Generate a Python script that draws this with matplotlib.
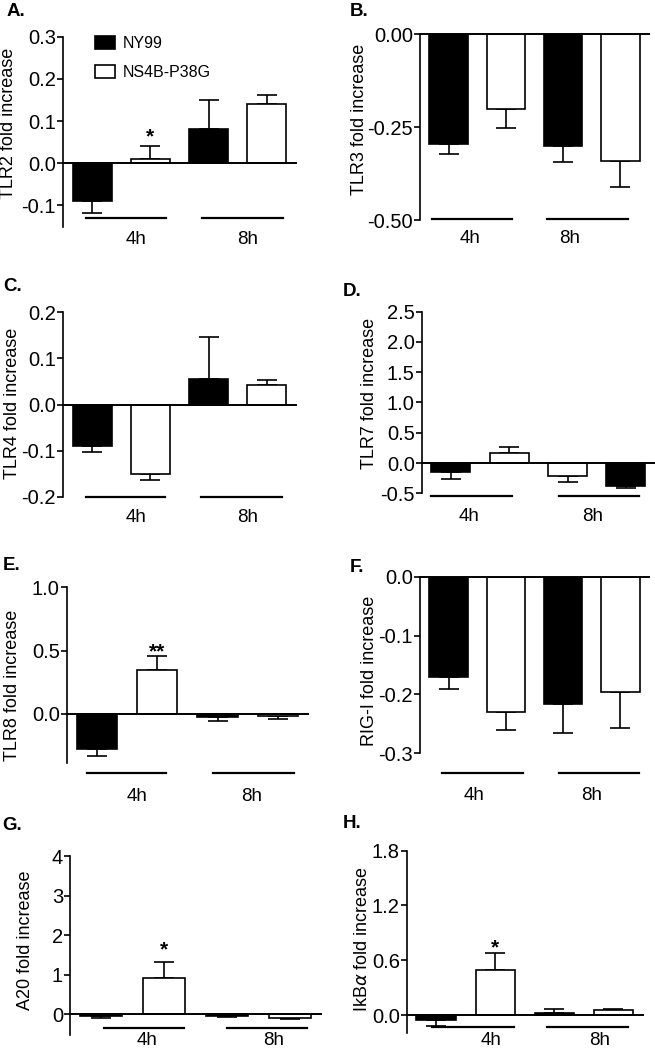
import numpy as np
import matplotlib
matplotlib.use("Agg")
import matplotlib.pyplot as plt
from matplotlib.patches import Patch
from matplotlib import font_manager
from matplotlib.transforms import offset_copy

W, H = 655, 1049
plt.rcParams['font.family'] = ['Liberation Sans', 'DejaVu Sans']
plt.rcParams['axes.unicode_minus'] = False

names = {f.name for f in font_manager.fontManager.ttflist}
if 'Liberation Sans Narrow' in names:
    tick_font = dict(family='Liberation Sans Narrow', size=16.5)
    lab_font = dict(family='Liberation Sans Narrow', size=14.5)
    leg_size = 13.5
    leg_family = 'Liberation Sans Narrow'
else:
    tick_font = dict(family='Liberation Sans', size=14.5)
    lab_font = dict(family='Liberation Sans', size=13.5)
    leg_size = 11.5
    leg_family = 'Liberation Sans'

# data (fold increase, mean and SEM) for 4h and 8h
times = ["4h", "8h"]
panel_letters = ["A.", "B.", "C.", "D.", "E.", "F.", "G.", "H."]
ylabels = ["TLR2 fold increase", "TLR3 fold increase", "TLR4 fold increase",
           "TLR7 fold increase", "TLR8 fold increase", "RIG-I fold increase",
           "A20 fold increase", r"IkB$\alpha$ fold increase"]

ny99 = [
    [-0.090, 0.082],
    [-0.295, -0.300],
    [-0.091, 0.056],
    [-0.155, -0.374],
    [-0.274, -0.026],
    [-0.171, -0.216],
    [-0.060, -0.050],
    [-0.059, 0.018],
]
ny99_err = [
    [0.027, 0.067],
    [0.027, 0.045],
    [0.012, 0.090],
    [0.105, 0.046],
    [0.061, 0.032],
    [0.020, 0.050],
    [0.030, 0.020],
    [0.065, 0.051],
]
ns4b = [
    [0.011, 0.141],
    [-0.200, -0.341],
    [-0.150, 0.042],
    [0.165, -0.220],
    [0.343, -0.013],
    [-0.230, -0.196],
    [0.920, -0.090],
    [0.490, 0.058],
]
ns4b_err = [
    [0.029, 0.020],
    [0.052, 0.070],
    [0.013, 0.012],
    [0.092, 0.090],
    [0.113, 0.024],
    [0.031, 0.061],
    [0.390, 0.025],
    [0.187, 0.008],
]
# significance marks (panel, text, y of mark)
stars = {0: ("*", 0.074), 4: ("**", 0.53), 6: ("*", 1.76), 7: ("*", 0.79)}

# layout: axes pixel box (left, right, top, bottom), ylim, yticks, tick format
layout = [
    dict(box=(63, 296, 36.7, 226.5), ylim=(-0.15, 0.3), ticks=[-0.1, 0, 0.1, 0.2, 0.3], fmt="%.1f",
         pos=([0, 2], [1, 3]), lines=((-0.10, 1.26), (1.88, 3.27)), ly=-0.130, tx=(0.76, 2.67), ty=-0.18,
         ylab=(9, 123), let=(7, 11)),
    dict(box=(420, 649, 34.3, 220), ylim=(-0.5, 0.0), ticks=[-0.5, -0.25, 0.0], fmt="%.2f",
         pos=([0, 2], [1, 3]), lines=((-0.29, 1.11), (1.72, 3.14)), ly=-0.497, tx=(0.37, 2.12), ty=-0.551,
         ylab=(359, 119), let=(350, 11)),
    dict(box=(63, 296, 312.3, 496.7), ylim=(-0.2, 0.2), ticks=[-0.2, -0.1, 0, 0.1, 0.2], fmt="%.1f",
         pos=([0, 2], [1, 3]), lines=((-0.10, 1.25), (1.87, 3.26)), ly=-0.2, tx=(0.75, 2.67), ty=-0.246,
         ylab=(13, 403), let=(3, 287)),
    dict(box=(421.7, 655, 311.7, 493.3), ylim=(-0.5, 2.5), ticks=[-0.5, 0, 0.5, 1.0, 1.5, 2.0, 2.5], fmt="%.1f",
         pos=([0, 3], [1, 2]), lines=((-0.34, 1.04), (1.85, 3.23)), ly=-0.545, tx=(0.32, 2.43), ty=-0.89,
         ylab=(369, 393), let=(343, 291)),
    dict(box=(66.7, 308, 587.3, 763.3), ylim=(-0.39, 1.0), ticks=[0, 0.5, 1.0], fmt="%.1f",
         pos=([0, 2], [1, 3]), lines=((-0.17, 1.15), (1.93, 3.27)), ly=-0.47, tx=(0.66, 2.56), ty=-0.65,
         ylab=(13, 685), let=(3, 565)),
    dict(box=(420, 649, 576.7, 753.3), ylim=(-0.3, 0.0), ticks=[-0.3, -0.2, -0.1, 0.0], fmt="%.1f",
         pos=([0, 2], [1, 3]), lines=((-0.11, 1.30), (1.93, 3.33)), ly=-0.333, tx=(0.44, 2.49), ty=-0.372,
         ylab=(369, 671), let=(350, 567)),
    dict(box=(70, 321, 856, 1035), ylim=(-0.53, 4.0), ticks=[0, 1, 2, 3, 4], fmt="%d",
         pos=([0, 2], [1, 3]), lines=((0.04, 1.32), (2.0, 3.28)), ly=-0.35, tx=(0.73, 2.74), ty=-0.68,
         ylab=(26, 940), let=(2, 825)),
    dict(box=(406.7, 643, 850.7, 1033.3), ylim=(-0.2, 1.8), ticks=[0, 0.6, 1.2, 1.8], fmt="%.1f",
         pos=([0, 2], [1, 3]), lines=((-0.07, 1.31), (1.88, 3.25)), ly=-0.136, tx=(0.92, 2.76), ty=-0.28,
         ylab=(362, 939), let=(343, 824)),
]

fig = plt.figure(figsize=(W / 100, H / 100), dpi=100)

lw = 1.2
for i, L in enumerate(layout):
    left, right, top, bottom = L["box"]
    ax = fig.add_axes([left / W, 1 - bottom / H, (right - left) / W, (bottom - top) / H])
    ax.set_xlim(-0.5, 3.5)
    ax.set_ylim(*L["ylim"])
    for s in ["top", "right", "bottom"]:
        ax.spines[s].set_visible(False)
    ax.spines["left"].set_linewidth(lw)
    ax.set_xticks([])
    ax.set_yticks(L["ticks"])
    ax.set_yticklabels([L["fmt"] % t for t in L["ticks"]], **tick_font)
    ax.tick_params(axis="y", length=4, width=lw, pad=1)

    p_ny, p_ns = L["pos"]
    for pos, vals, errs, col in [(p_ny, ny99[i], ny99_err[i], "black"),
                                 (p_ns, ns4b[i], ns4b_err[i], "white")]:
        vals = np.array(vals)
        errs = np.array(errs)
        lower = np.where(vals < 0, errs, 0)
        upper = np.where(vals >= 0, errs, 0)
        ax.errorbar(pos, vals, yerr=[lower, upper], fmt="none", ecolor="black",
                    elinewidth=lw, capsize=7.5, capthick=lw, zorder=1)
        ax.bar(pos, vals, width=0.67, color=col, edgecolor="black", linewidth=lw, zorder=2)

    ax.axhline(0, color="black", lw=1.4, clip_on=False, zorder=3)

    for (x0, x1), tx, t in zip(L["lines"], L["tx"], times):
        ax.plot([x0, x1], [L["ly"], L["ly"]], color="black", lw=1.6, clip_on=False)
        ax.text(tx, L["ty"], t, ha="center", va="center", clip_on=False, **lab_font)

    if i in stars:
        txt, sy = stars[i]
        tr = offset_copy(ax.transData, fig=fig, x=0, y=-5, units="dots")
        ax.text(1, sy, txt, ha="center", va="center", transform=tr, fontsize=15, fontweight="bold")

    fig.text(L["ylab"][0] / W, 1 - L["ylab"][1] / H, ylabels[i], rotation=90,
             ha="center", va="center", fontsize=13)
    fig.text(L["let"][0] / W, 1 - L["let"][1] / H, panel_letters[i], ha="left", va="center",
             fontsize=13.5, fontweight="bold")

    if i == 0:
        handles = [Patch(facecolor="black", edgecolor="black", linewidth=lw),
                   Patch(facecolor="white", edgecolor="black", linewidth=lw)]
        fig.legend(handles, ["NY99", "NS4B-P38G"], loc="upper left",
                   bbox_to_anchor=(95 / W, 1 - 36 / H), borderaxespad=0, borderpad=0,
                   handlelength=1.25, handleheight=0.9, handletextpad=0.5, labelspacing=0.85,
                   frameon=False, prop=dict(family=leg_family, size=leg_size))

fig.savefig("out.png", dpi=100)
